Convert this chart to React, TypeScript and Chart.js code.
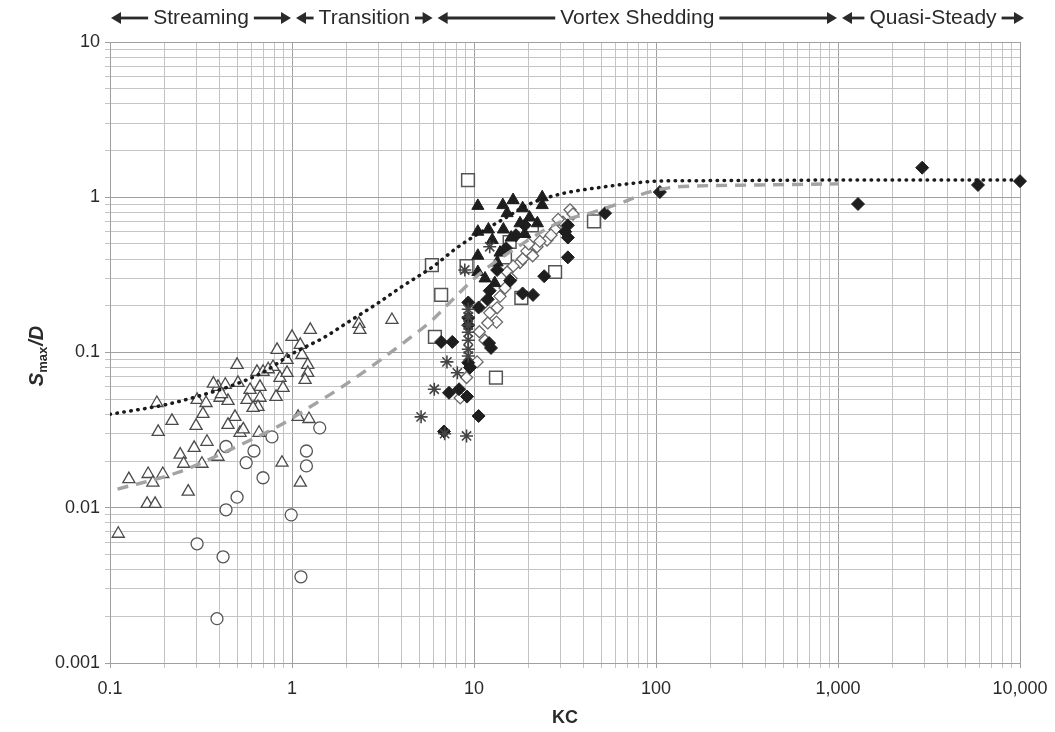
import React, { useEffect, useRef } from 'react';
import { Chart, registerables } from 'chart.js';

Chart.register(...registerables);

// ---------- axis ticks ----------
const xMajorTicks = [0.1, 1, 10, 100, 1000, 10000];
const xMajorLabels = ['0.1', '1', '10', '100', '1,000', '10,000'];
const yMajorTicks = [0.001, 0.01, 0.1, 1, 10];
const yMajorLabels = ['0.001', '0.01', '0.1', '1', '10'];
const minorMultipliers = [2, 3, 4, 5, 6, 7, 8, 9];

// ---------- regime bands (KC limits) ----------
const regimeLabels = ['Streaming', 'Transition', 'Vortex Shedding', 'Quasi-Steady'];
const regimeFrom = [0.1, 1, 6, 1000];
const regimeTo = [1, 6, 1000, 10000];

// ---------- data ----------
const openTriX = [0.111, 0.127, 0.162, 0.195, 0.172, 0.16, 0.177, 0.269, 0.243, 0.29, 0.254, 0.32, 0.392, 0.881, 1.11, 0.341,
  0.181, 0.184, 0.219, 0.301, 0.337, 0.324, 0.297, 0.392, 0.402, 0.445, 0.499, 0.505, 0.486, 0.445, 0.518, 0.642, 0.693,
  0.667, 0.588, 0.566, 0.667, 0.65, 0.611, 0.828, 1.0, 1.26, 1.11, 0.939, 0.787, 0.859, 0.939, 0.893, 0.817, 1.135, 1.22,
  1.22, 1.18, 1.08, 1.24, 0.659, 2.33, 2.36, 3.54, 0.37, 0.43, 0.54, 0.74, 0.41];
const openTriY = [0.0068, 0.0153, 0.0165, 0.0165, 0.0145, 0.0106, 0.0106, 0.0127, 0.022, 0.0243, 0.0192, 0.0192, 0.0213, 0.0195, 0.0145, 0.0266,
  0.0473, 0.0308, 0.0363, 0.0495, 0.0473, 0.0402, 0.0337, 0.0601, 0.0511, 0.0488, 0.0832, 0.0637, 0.0385, 0.0342, 0.0304, 0.075, 0.075,
  0.0601, 0.0574, 0.0495, 0.0511, 0.0446, 0.044, 0.104, 0.126, 0.14, 0.112, 0.0896, 0.0807, 0.0686, 0.074, 0.0592, 0.0518, 0.0966, 0.0832,
  0.074, 0.0667, 0.0385, 0.0373, 0.0304, 0.153, 0.14, 0.162, 0.063, 0.062, 0.032, 0.078, 0.054];

const openCircX = [0.434, 0.618, 0.56, 0.693, 0.499, 0.434, 0.301, 0.418, 0.387, 0.99, 1.12, 1.2, 1.2, 1.42, 0.776];
const openCircY = [0.0248, 0.0232, 0.0195, 0.0156, 0.0117, 0.0097, 0.00586, 0.00483, 0.00193, 0.009, 0.00359, 0.0232, 0.0186, 0.0327, 0.0286];

const fillTriX = [10.5, 14.4, 16.4, 23.7, 23.7, 10.5, 10.5, 10.5, 13.4, 15.2, 17.9, 20.2, 22.3, 12.6, 13.9, 11.5, 13, 12, 18.5, 19, 16, 14.5];
const fillTriY = [0.88, 0.89, 0.96, 1.0, 0.89, 0.6, 0.42, 0.33, 0.38, 0.79, 0.68, 0.74, 0.68, 0.53, 0.44, 0.3, 0.28, 0.62, 0.85, 0.58, 0.55, 0.62];

const openSqX = [9.27, 5.87, 6.6, 6.1, 9.1, 13.2, 27.9, 45.6, 18.2, 14.8, 20.8, 15.7];
const openSqY = [1.29, 0.366, 0.235, 0.126, 0.36, 0.069, 0.33, 0.7, 0.225, 0.41, 0.66, 0.515];

const fillDiaX = [6.84, 7.29, 8.28, 9.16, 10.6, 9.3, 9.5, 6.6, 7.6, 9.3, 10.6, 9.3, 9.3, 12.1, 12.4, 21.1, 11.9, 24.3, 32.8, 32.8,
  32.8, 31.7, 52.5, 18.5, 15.0, 17.0, 19.0, 13.4, 15.8, 12.2, 105, 1288, 2900, 5876, 10000];
const fillDiaY = [0.031, 0.055, 0.058, 0.052, 0.039, 0.086, 0.08, 0.117, 0.117, 0.21, 0.195, 0.167, 0.15, 0.115, 0.107, 0.235, 0.22, 0.31, 0.41, 0.55,
  0.66, 0.6, 0.79, 0.24, 0.47, 0.57, 0.66, 0.34, 0.29, 0.25, 1.08, 0.905, 1.55, 1.2, 1.27];

const openDiaX = [33.7, 30.8, 27.9, 25.2, 22.2, 19.5, 17.9, 16.4, 15.2, 14.8, 13.9, 13.4, 12.2, 13.3, 11.9, 10.7, 11.5, 10.4, 9.1, 8.4,
  35, 29, 26.5, 23, 21, 18.5, 11, 16, 20];
const openDiaY = [0.83, 0.69, 0.62, 0.53, 0.48, 0.45, 0.38, 0.36, 0.33, 0.26, 0.23, 0.194, 0.18, 0.157, 0.155, 0.136, 0.12, 0.087, 0.069, 0.051,
  0.78, 0.72, 0.57, 0.52, 0.42, 0.4, 0.2, 0.3, 0.5];

const starX = [7.1, 8.1, 6.05, 5.12, 6.9, 9.1, 8.9, 12.2, 9.3, 9.3, 9.3, 9.3, 9.3, 9.3, 9.3];
const starY = [0.087, 0.074, 0.058, 0.0385, 0.03, 0.029, 0.34, 0.48, 0.19, 0.17, 0.15, 0.135, 0.12, 0.105, 0.095];

const dottedX = [0.1, 0.2, 0.3, 0.5, 0.7, 1, 1.5, 2, 3, 4, 6, 8, 10, 15, 20, 30, 50, 70, 100, 200, 1000, 10000];
const dottedY = [0.04, 0.046, 0.052, 0.063, 0.075, 0.098, 0.125, 0.155, 0.21, 0.265, 0.36, 0.47, 0.56, 0.74, 0.9, 1.05, 1.16, 1.22, 1.27, 1.28, 1.29, 1.29];

const dashedX = [0.11, 0.233, 0.52, 0.86, 1.26, 2.03, 4.28, 5.9, 7.6, 10.7, 17.9, 29.6, 45, 66, 89, 124, 159, 370, 1000];
const dashedY = [0.0132, 0.0168, 0.0254, 0.034, 0.0447, 0.0637, 0.12, 0.162, 0.218, 0.32, 0.49, 0.69, 0.8, 0.93, 1.07, 1.16, 1.18, 1.2, 1.22];

const pts = (xs: number[], ys: number[]) => xs.map((x, i) => ({ x, y: ys[i] }));

const buildTicks = (majors: number[]) => {
  const out: number[] = [];
  majors.forEach((m, i) => {
    out.push(m);
    if (i < majors.length - 1) minorMultipliers.forEach((k) => out.push(m * k));
  });
  return out;
};

const labelFor = (v: number, majors: number[], labels: string[]) => {
  const i = majors.findIndex((m) => Math.abs(v - m) / m < 1e-6);
  return i >= 0 ? labels[i] : '';
};
const isMajor = (v: number, majors: number[]) => majors.some((m) => Math.abs(v - m) / m < 1e-6);

const FONT = "'Liberation Sans Narrow', 'Arial Narrow', 'Liberation Sans', Arial, sans-serif";

const decorPlugin = {
  id: 'decor',
  afterDraw(chart: any) {
    const ctx = chart.ctx;
    const xs = chart.scales.x;
    const area = chart.chartArea;
    ctx.save();
    ctx.fillStyle = '#2a2a2a';
    ctx.strokeStyle = '#2a2a2a';
    // regime header
    const yH = 18;
    ctx.font = `21px ${FONT}`;
    ctx.textBaseline = 'middle';
    ctx.textAlign = 'center';
    const arrow = (x1: number, x2: number, dir: number) => {
      ctx.lineWidth = 2.8;
      ctx.beginPath();
      if (dir < 0) { ctx.moveTo(x1 + 6, yH); ctx.lineTo(x2, yH); }
      else { ctx.moveTo(x1, yH); ctx.lineTo(x2 - 6, yH); }
      ctx.stroke();
      ctx.beginPath();
      if (dir < 0) { ctx.moveTo(x1, yH); ctx.lineTo(x1 + 10, yH - 6); ctx.lineTo(x1 + 10, yH + 6); }
      else { ctx.moveTo(x2, yH); ctx.lineTo(x2 - 10, yH - 6); ctx.lineTo(x2 - 10, yH + 6); }
      ctx.closePath();
      ctx.fill();
    };
    regimeLabels.forEach((lab, i) => {
      const a = xs.getPixelForValue(regimeFrom[i]) + (i === 0 ? 1 : 4);
      const b = xs.getPixelForValue(regimeTo[i]) + (i === regimeLabels.length - 1 ? 4 : -1);
      const mid = (a + b) / 2;
      const w = ctx.measureText(lab).width;
      ctx.fillText(lab, mid, yH);
      arrow(a, mid - w / 2 - 5, -1);
      arrow(mid + w / 2 + 5, b, 1);
    });
    // x title
    ctx.font = `bold 18px ${FONT}`;
    ctx.textAlign = 'center';
    ctx.textBaseline = 'middle';
    ctx.fillText('KC', (area.left + area.right) / 2, 718);
    // y title S_max/D
    ctx.translate(37, (area.top + area.bottom) / 2 + 4);
    ctx.rotate(-Math.PI / 2);
    const fBig = `italic bold 20px ${FONT}`;
    const fSmall = `bold 13px ${FONT}`;
    ctx.font = fBig; const wS = ctx.measureText('S').width;
    ctx.font = fSmall; const wM = ctx.measureText('max').width;
    ctx.font = fBig; const wD = ctx.measureText('/D').width;
    let x0 = -(wS + wM + wD) / 2;
    ctx.textAlign = 'left';
    ctx.textBaseline = 'alphabetic';
    ctx.font = fBig; ctx.fillText('S', x0, 6); x0 += wS;
    ctx.font = fSmall; ctx.fillText('max', x0, 10); x0 += wM + 1;
    ctx.font = fBig; ctx.fillText('/D', x0, 6);
    ctx.restore();
  },
};

const markerBase = { showLine: false, clip: false as any };

export default function App() {
  const ref = useRef<HTMLCanvasElement>(null);
  useEffect(() => {
    if (!ref.current) return;
    const xTicks = buildTicks(xMajorTicks);
    const yTicks = buildTicks(yMajorTicks);
    const gridColor = (majors: number[]) => (c: any) =>
      c.tick && isMajor(c.tick.value, majors) ? '#a0a0a0' : '#c4c4c4';
    const chart = new Chart(ref.current, {
      type: 'scatter',
      data: {
        datasets: [
          { ...markerBase, label: 'open triangles', data: pts(openTriX, openTriY), pointStyle: 'triangle', pointRadius: 7,
            backgroundColor: 'rgba(255,255,255,0.85)', borderColor: '#4a4a4a', borderWidth: 1.3, order: 5 },
          { ...markerBase, label: 'open circles', data: pts(openCircX, openCircY), pointStyle: 'circle', pointRadius: 6,
            backgroundColor: 'rgba(255,255,255,0.85)', borderColor: '#555', borderWidth: 1.3, order: 5 },
          { ...markerBase, label: 'open squares', data: pts(openSqX, openSqY), pointStyle: 'rect', pointRadius: 9,
            backgroundColor: 'rgba(255,255,255,0.9)', borderColor: '#555', borderWidth: 1.5, order: 6 },
          { ...markerBase, label: 'open diamonds', data: pts(openDiaX, openDiaY), pointStyle: 'rectRot', pointRadius: 6,
            backgroundColor: 'rgba(255,255,255,0.9)', borderColor: '#666', borderWidth: 1.3, order: 4 },
          { ...markerBase, label: 'filled triangles', data: pts(fillTriX, fillTriY), pointStyle: 'triangle', pointRadius: 7,
            backgroundColor: '#1e1e1e', borderColor: '#1e1e1e', borderWidth: 1, order: 3 },
          { ...markerBase, label: 'filled diamonds', data: pts(fillDiaX, fillDiaY), pointStyle: 'rectRot', pointRadius: 6.5,
            backgroundColor: '#1e1e1e', borderColor: '#1e1e1e', borderWidth: 1, order: 3 },
          { ...markerBase, label: 'asterisks', data: pts(starX, starY), pointStyle: 'star', pointRadius: 6.5,
            backgroundColor: '#444', borderColor: '#444', borderWidth: 1.6, order: 2 },
          { label: 'dashed', data: pts(dashedX, dashedY), showLine: true, pointRadius: 0, borderColor: '#a3a3a3',
            borderWidth: 3.4, borderDash: [11, 8], cubicInterpolationMode: 'monotone', fill: false, order: 1 },
          { label: 'dotted', data: pts(dottedX, dottedY), showLine: true, pointRadius: 0, borderColor: '#1a1a1a',
            borderWidth: 3.5, borderDash: [0.5, 6.5], borderCapStyle: 'round', cubicInterpolationMode: 'monotone',
            fill: false, order: 0 },
        ] as any,
      },
      options: {
        responsive: false,
        animation: false,
        devicePixelRatio: 1,
        layout: { padding: { left: 0, top: 42, right: 35, bottom: 0 } },
        plugins: { legend: { display: false }, tooltip: { enabled: false } },
        scales: {
          x: {
            type: 'logarithmic',
            min: 0.1,
            max: 10000,
            afterBuildTicks: (s: any) => { s.ticks = xTicks.map((v) => ({ value: v, major: isMajor(v, xMajorTicks) })); },
            afterFit: (s: any) => { s.height = 69; s.paddingLeft = 0; s.paddingRight = 0; },
            ticks: {
              autoSkip: false, maxRotation: 0, minRotation: 0, padding: 10, color: '#2a2a2a',
              font: { family: FONT, size: 18 },
              callback: (v: any) => labelFor(Number(v), xMajorTicks, xMajorLabels),
            },
            grid: { color: gridColor(xMajorTicks), lineWidth: 1, drawTicks: true, tickLength: 5 },
            border: { display: true, color: '#a0a0a0' },
          },
          y: {
            type: 'logarithmic',
            min: 0.001,
            max: 10,
            afterBuildTicks: (s: any) => { s.ticks = yTicks.map((v) => ({ value: v, major: isMajor(v, yMajorTicks) })); },
            afterFit: (s: any) => { s.width = 110; s.paddingTop = 0; s.paddingBottom = 0; },
            ticks: {
              autoSkip: false, padding: 5, color: '#2a2a2a',
              font: { family: FONT, size: 18 },
              callback: (v: any) => labelFor(Number(v), yMajorTicks, yMajorLabels),
            },
            grid: { color: gridColor(yMajorTicks), lineWidth: 1, drawTicks: true, tickLength: 5 },
            border: { display: true, color: '#a0a0a0' },
          },
        },
      },
      plugins: [decorPlugin],
    } as any);
    return () => chart.destroy();
  }, []);
  return (
    <div style={{ position: 'absolute', left: 0, top: 0, width: 1055, height: 732, background: '#fff' }}>
      <canvas ref={ref} width={1055} height={732} style={{ display: 'block' }} />
    </div>
  );
}
